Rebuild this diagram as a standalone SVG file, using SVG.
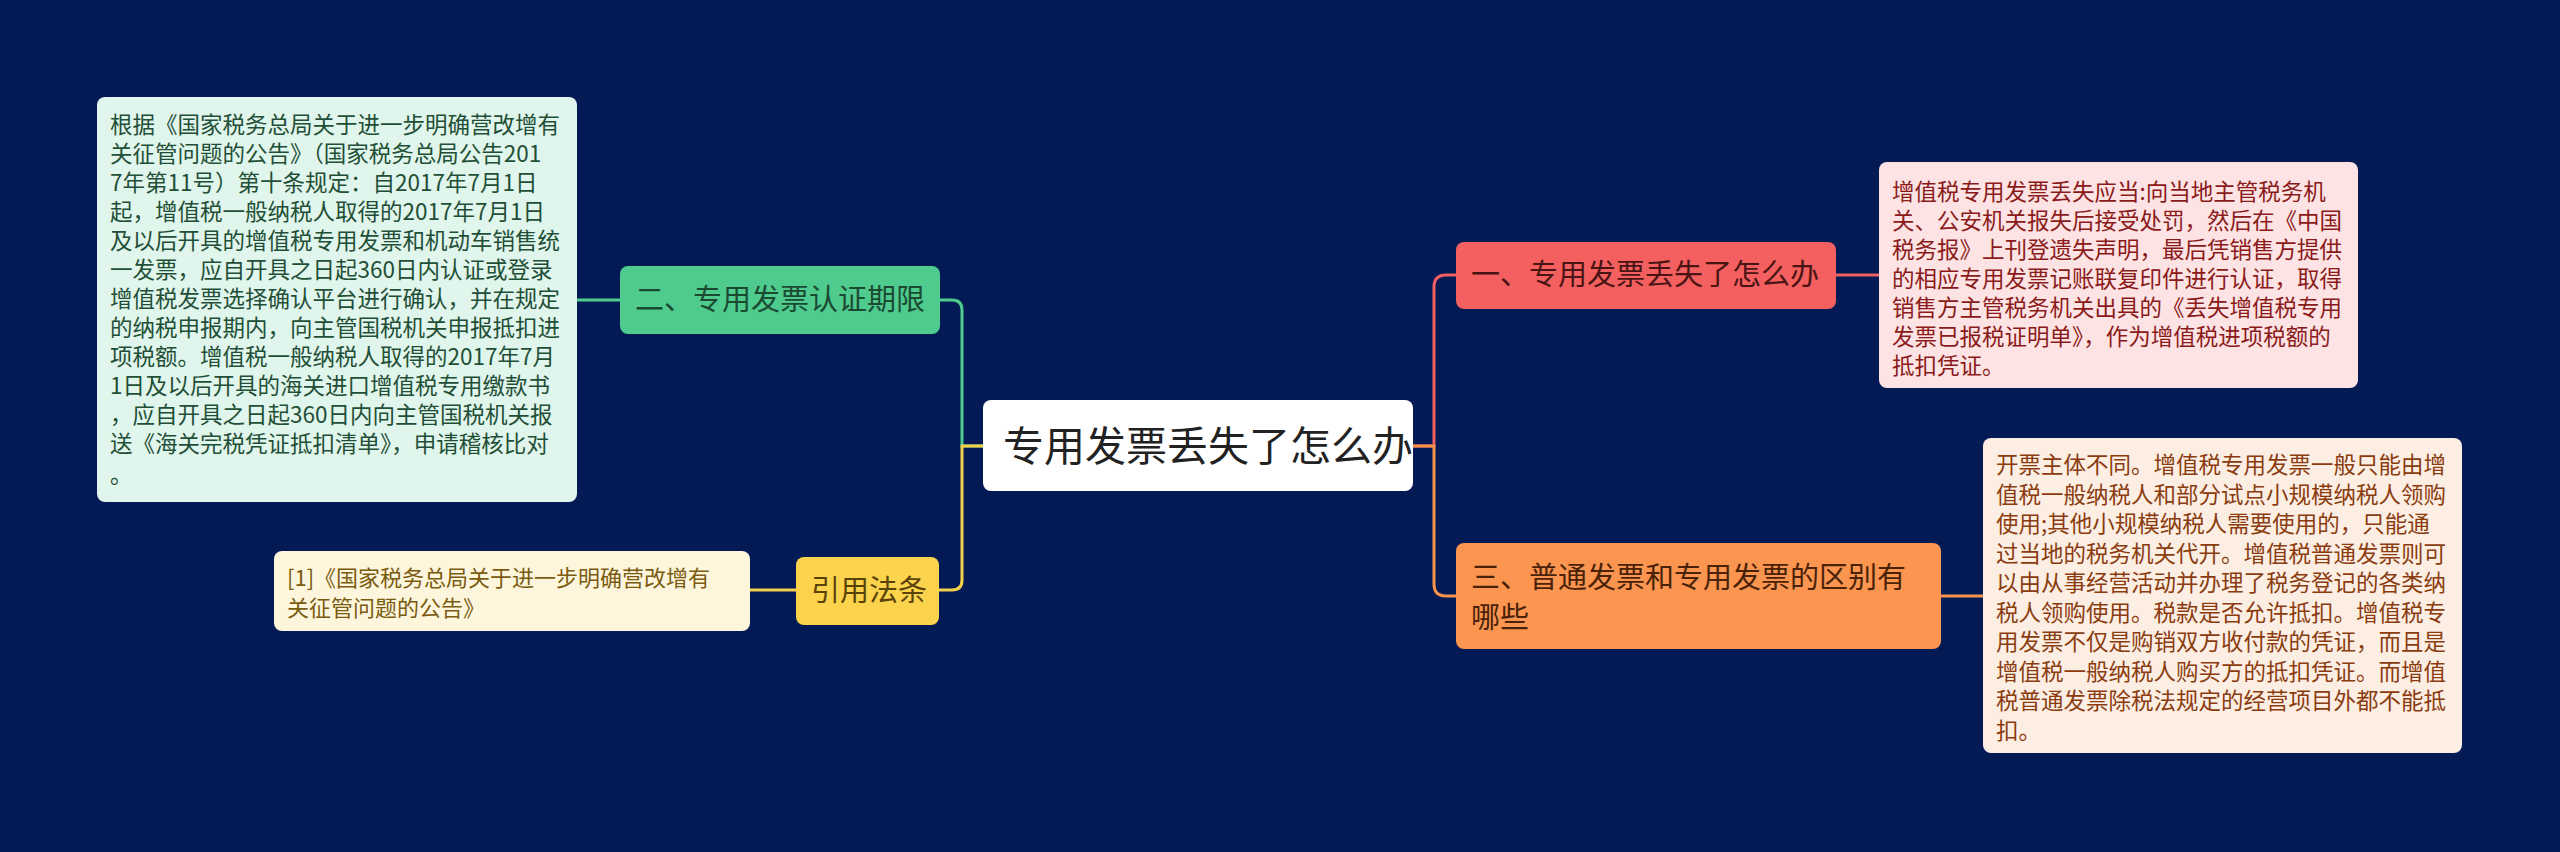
<svg xmlns="http://www.w3.org/2000/svg" width="2560" height="852" viewBox="0 0 2560 852">
<style>
text{font-family:"Noto Sans CJK SC","Liberation Sans",sans-serif}
.s{font-size:22.5px}
.m{font-size:29px}
.c{fill:none;stroke-width:3}
</style>
<rect width="2560" height="852" fill="#031a55"/>
<g id="connectors">
<path class="c" stroke="#4ecb8d" d="M983,446 H962 V310 Q962,300 952,300 H939"/>
<path class="c" stroke="#f5d04a" d="M983,446 H962 V580 Q962,590 952,590 H939"/>
<path class="c" stroke="#4ecb8d" d="M620,300 H577"/>
<path class="c" stroke="#f5d04a" d="M796,590 H750"/>
<path class="c" stroke="#f06060" d="M1413,446 H1434 V287 Q1434,275 1446,275 H1457"/>
<path class="c" stroke="#f8914a" d="M1413,446 H1434 V584 Q1434,596 1446,596 H1457"/>
<path class="c" stroke="#f06060" d="M1836,275 H1879"/>
<path class="c" stroke="#f8914a" d="M1941,596 H1983"/>
</g>
<g id="center">
<rect x="983" y="400" width="430" height="91" rx="8" fill="#ffffff"/>
<text x="1003" y="461" font-size="41" fill="#222">专用发票丢失了怎么办</text>
</g>
<g id="n2">
<rect x="620" y="266" width="320" height="68" rx="8" fill="#4ecb8d"/>
<text class="m" x="635" y="310" fill="#1b4a33">二、专用发票认证期限</text>
</g>
<g id="n2d">
<rect x="97" y="97" width="480" height="405" rx="8" fill="#e0f5ec"/>
<text class="s" fill="#1f4f36" x="110">
<tspan x="110" y="133">根据《国家税务总局关于进一步明确营改增有</tspan>
<tspan x="110" y="162">关征管问题的公告》（国家税务总局公告201</tspan>
<tspan x="110" y="191">7年第11号）第十条规定：自2017年7月1日</tspan>
<tspan x="110" y="220">起，增值税一般纳税人取得的2017年7月1日</tspan>
<tspan x="110" y="249">及以后开具的增值税专用发票和机动车销售统</tspan>
<tspan x="110" y="278">一发票，应自开具之日起360日内认证或登录</tspan>
<tspan x="110" y="307">增值税发票选择确认平台进行确认，并在规定</tspan>
<tspan x="110" y="336">的纳税申报期内，向主管国税机关申报抵扣进</tspan>
<tspan x="110" y="365">项税额。增值税一般纳税人取得的2017年7月</tspan>
<tspan x="110" y="394">1日及以后开具的海关进口增值税专用缴款书</tspan>
<tspan x="110" y="423">，应自开具之日起360日内向主管国税机关报</tspan>
<tspan x="110" y="452">送《海关完税凭证抵扣清单》，申请稽核比对</tspan>
<tspan x="110" y="483">。</tspan>
</text>
</g>
<g id="n4">
<rect x="796" y="557" width="143" height="68" rx="8" fill="#fcd34d"/>
<text class="m" x="811" y="601" fill="#5a4308">引用法条</text>
</g>
<g id="n4d">
<rect x="274" y="551" width="476" height="80" rx="8" fill="#fdf6dc"/>
<text font-size="22" fill="#7a5b10"><tspan x="287" y="586">[1]《国家税务总局关于进一步明确营改增有</tspan><tspan x="287" y="616">关征管问题的公告》</tspan></text>
</g>
<g id="n1">
<rect x="1456" y="242" width="380" height="67" rx="8" fill="#f45f5f"/>
<text class="m" x="1471" y="285" fill="#4a1414">一、专用发票丢失了怎么办</text>
</g>
<g id="n1d">
<rect x="1879" y="162" width="479" height="226" rx="8" fill="#fde3e3"/>
<text class="s" fill="#8b1a1a">
<tspan x="1892" y="200">增值税专用发票丢失应当:向当地主管税务机</tspan>
<tspan x="1892" y="229">关、公安机关报失后接受处罚，然后在《中国</tspan>
<tspan x="1892" y="258">税务报》上刊登遗失声明，最后凭销售方提供</tspan>
<tspan x="1892" y="287">的相应专用发票记账联复印件进行认证，取得</tspan>
<tspan x="1892" y="316">销售方主管税务机关出具的《丢失增值税专用</tspan>
<tspan x="1892" y="345">发票已报税证明单》，作为增值税进项税额的</tspan>
<tspan x="1892" y="374">抵扣凭证。</tspan>
</text>
</g>
<g id="n3">
<rect x="1456" y="543" width="485" height="106" rx="8" fill="#fb9550"/>
<text class="m" fill="#4a2208"><tspan x="1471" y="588">三、普通发票和专用发票的区别有</tspan><tspan x="1471" y="628">哪些</tspan></text>
</g>
<g id="n3d">
<rect x="1983" y="438" width="479" height="315" rx="8" fill="#fdeee4"/>
<text class="s" fill="#8a3c0f">
<tspan x="1996" y="473">开票主体不同。增值税专用发票一般只能由增</tspan>
<tspan x="1996" y="502.5">值税一般纳税人和部分试点小规模纳税人领购</tspan>
<tspan x="1996" y="532">使用;其他小规模纳税人需要使用的，只能通</tspan>
<tspan x="1996" y="561.5">过当地的税务机关代开。增值税普通发票则可</tspan>
<tspan x="1996" y="591">以由从事经营活动并办理了税务登记的各类纳</tspan>
<tspan x="1996" y="620.5">税人领购使用。税款是否允许抵扣。增值税专</tspan>
<tspan x="1996" y="650">用发票不仅是购销双方收付款的凭证，而且是</tspan>
<tspan x="1996" y="679.5">增值税一般纳税人购买方的抵扣凭证。而增值</tspan>
<tspan x="1996" y="709">税普通发票除税法规定的经营项目外都不能抵</tspan>
<tspan x="1996" y="738.5">扣。</tspan>
</text>
</g>
</svg>
